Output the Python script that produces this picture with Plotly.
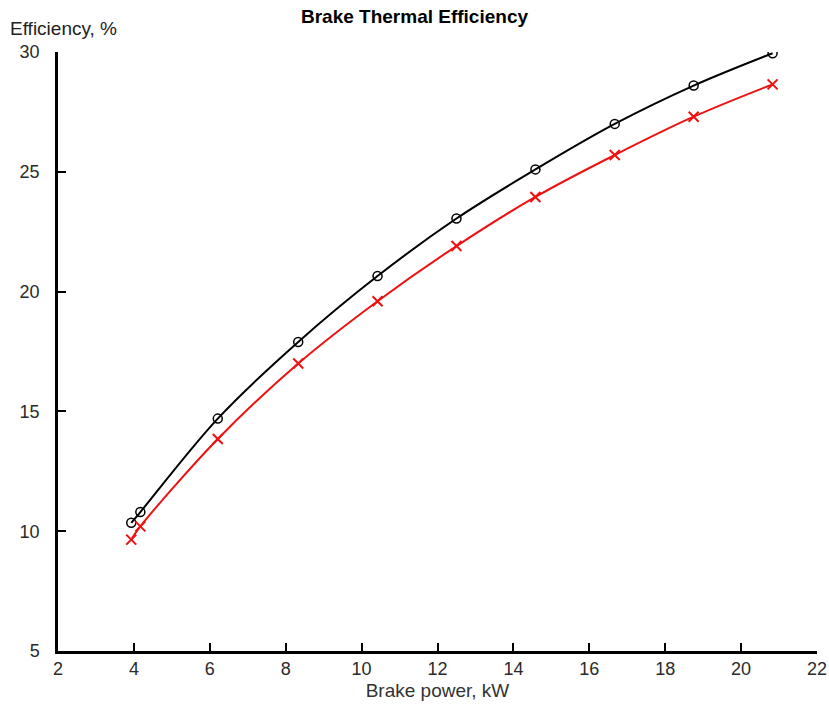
import plotly.graph_objects as go

# brake power, kW
power = [3.93, 4.17, 6.21, 8.33, 10.42, 12.5, 14.58, 16.67, 18.75, 20.83]
# efficiency, %
eff_black = [10.35, 10.8, 14.7, 17.9, 20.65, 23.05, 25.1, 27.0, 28.6, 29.95]
eff_red = [9.65, 10.2, 13.85, 17.0, 19.6, 21.9, 23.95, 25.7, 27.3, 28.65]

x_ticks = [2, 4, 6, 8, 10, 12, 14, 16, 18, 20, 22]
y_ticks = [5, 10, 15, 20, 25, 30]

fig = go.Figure()
fig.add_trace(go.Scatter(x=power, y=eff_black, mode='lines+markers', line_shape='spline',
                         line=dict(color='black', width=2),
                         marker=dict(symbol='circle-open', size=9, color='black', line=dict(width=1.5)),
                         showlegend=False))
fig.add_trace(go.Scatter(x=power, y=eff_red, mode='lines+markers', line_shape='spline',
                         line=dict(color='#ee1111', width=2),
                         marker=dict(symbol='x-thin-open', size=10, color='#ee1111', line=dict(width=2, color='#ee1111')),
                         showlegend=False))

fig.update_xaxes(range=[2, 22], tickvals=x_ticks, ticks='inside', ticklen=8, tickwidth=2, tickcolor='black',
                 showline=True, linecolor='black', linewidth=2.5, showgrid=False, zeroline=False, automargin=False,
                 tickfont=dict(size=18), ticklabelstandoff=0,
                 title_text='Brake power, kW', title_font=dict(size=19, color='#333'), title_standoff=6)
fig.update_yaxes(range=[5, 30], tickvals=y_ticks, ticks='inside', ticklen=8, tickwidth=2, tickcolor='black',
                 showline=True, linecolor='black', linewidth=2.5, showgrid=False, zeroline=False, automargin=False,
                 tickfont=dict(size=18), ticklabelstandoff=12)

fig.add_annotation(text='Efficiency, %', xref='paper', yref='paper', x=-0.066, y=1.04,
                   xanchor='left', yanchor='middle', showarrow=False, font=dict(size=19, color='#222'))

fig.update_layout(
    width=829, height=712,
    margin=dict(l=58, r=12, t=52, b=61),
    paper_bgcolor='white', plot_bgcolor='white',
    font=dict(family='Liberation Sans, Arial, sans-serif', size=18, color='#2a2a2a'),
    title=dict(text='<b>Brake Thermal Efficiency</b>', x=0.5, xanchor='center', y=0.9775, yanchor='middle',
               font=dict(size=19, color='black')),
)

# drop the page's default body margin so the figure sits at the window corner
fig.write_html("out.html", config={'displayModeBar': False},
               post_script="document.body.style.margin='0';document.body.style.overflow='hidden';")
